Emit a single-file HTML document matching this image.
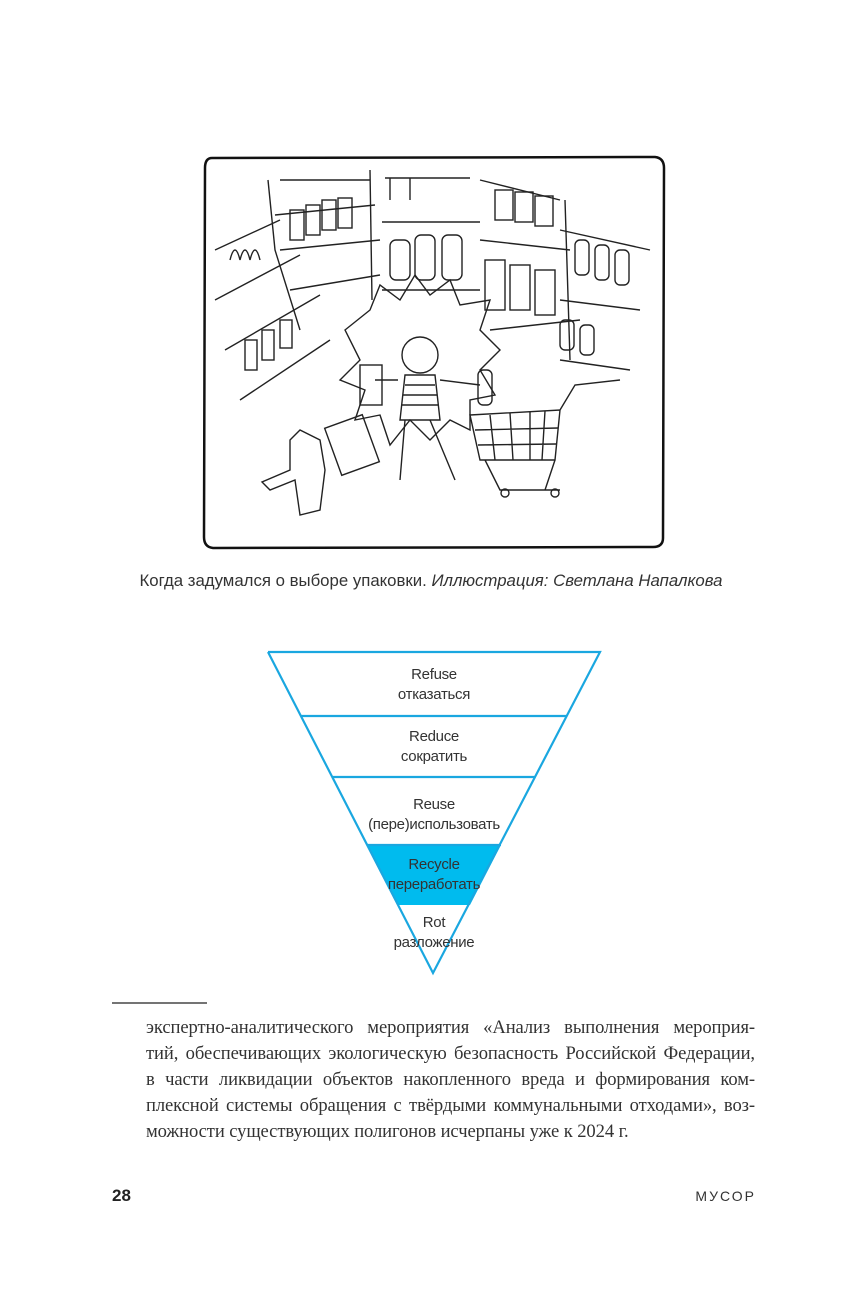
<!DOCTYPE html>
<html><head><meta charset="utf-8"><style>
html,body{margin:0;padding:0;background:#fff;}
body{width:862px;height:1299px;position:relative;overflow:hidden;font-family:"Liberation Sans",sans-serif;color:#222;}
.cap{position:absolute;top:571px;left:0;width:862px;text-align:center;font-size:16.8px;color:#333;}
.fn{position:absolute;left:146px;width:609px;font-family:"Liberation Serif",serif;font-size:18.6px;color:#333;text-align:justify;text-align-last:justify;white-space:nowrap;letter-spacing:-0.1px;}
.fn.last{text-align-last:left;}
.lbl{position:absolute;width:300px;text-align:center;font-size:15px;line-height:20px;color:#333;letter-spacing:-0.3px;}
</style></head><body>

<svg width="862" height="1299" style="position:absolute;left:0;top:0" xmlns="http://www.w3.org/2000/svg">
<path d="M212 158 L655 157 Q664 158 664 168 L663 538 Q663 547 653 547 L213 548 Q204 547 204 537 L205 168 Q205 158 212 158 Z" fill="none" stroke="#111" stroke-width="2.5"/>
<g fill="none" stroke="#222" stroke-width="1.4">
<path d="M215 250 L280 220 M215 300 L300 255 M225 350 L320 295 M240 400 L330 340 M280 180 L370 180 M275 215 L375 205 M280 250 L380 240 M290 290 L380 275"/>
<path d="M268 180 L275 250 L300 330 M370 170 L372 300"/>
<rect x="290" y="210" width="14" height="30"/><rect x="306" y="205" width="14" height="30"/><rect x="322" y="200" width="14" height="30"/><rect x="338" y="198" width="14" height="30"/>
<rect x="245" y="340" width="12" height="30"/><rect x="262" y="330" width="12" height="30"/><rect x="280" y="320" width="12" height="28"/>
<path d="M230 260 q5 -20 10 0 q5 -20 10 0 q5 -20 10 0"/>
<path d="M385 178 L470 178 M382 222 L480 222 M382 290 L480 290 M390 178 L390 200 M410 178 L410 200"/>
<rect x="390" y="240" width="20" height="40" rx="6"/><rect x="415" y="235" width="20" height="45" rx="6"/><rect x="442" y="235" width="20" height="45" rx="6"/>
<path d="M480 180 L560 200 M480 240 L570 250 M490 330 L580 320 M565 200 L570 360 M560 230 L650 250 M560 300 L640 310 M560 360 L630 370"/>
<rect x="495" y="190" width="18" height="30"/><rect x="515" y="192" width="18" height="30"/><rect x="535" y="196" width="18" height="30"/>
<rect x="485" y="260" width="20" height="50"/><rect x="510" y="265" width="20" height="45"/><rect x="535" y="270" width="20" height="45"/>
<rect x="575" y="240" width="14" height="35" rx="5"/><rect x="595" y="245" width="14" height="35" rx="5"/><rect x="615" y="250" width="14" height="35" rx="5"/>
<rect x="560" y="320" width="14" height="30" rx="5"/><rect x="580" y="325" width="14" height="30" rx="5"/>
<path d="M345 330 L370 310 L380 285 L400 300 L415 275 L430 295 L450 280 L460 305 L490 300 L480 330 L500 350 L480 370 L495 395 L470 400 L470 430 L450 420 L430 440 L410 420 L390 445 L380 415 L355 420 L365 390 L340 380 L360 360 Z"/>
<circle cx="420" cy="355" r="18"/>
<path d="M405 375 L400 420 L440 420 L435 375 Z M405 385 L435 385 M403 395 L437 395 M402 405 L438 405"/>
<path d="M405 420 L400 480 M430 420 L455 480 M398 380 L375 380 M440 380 L480 385"/>
<rect x="360" y="365" width="22" height="40"/><rect x="478" y="370" width="14" height="35" rx="5"/>
<path d="M470 415 L560 410 L555 460 L480 460 Z M560 410 L575 385 L620 380 M485 460 L500 490 L560 490 M555 460 L545 490"/>
<path d="M490 415 L495 460 M510 413 L513 460 M530 412 L530 460 M545 411 L542 460 M475 430 L558 428 M478 445 L556 444"/>
<circle cx="505" cy="493" r="4"/><circle cx="555" cy="493" r="4"/>
<path d="M290 440 L300 430 L320 440 L325 470 L320 510 L300 515 L295 480 L270 490 L262 482 L290 470 Z"/>
<rect x="332" y="420" width="40" height="50" transform="rotate(-20 352 445)"/>
</g>
<polygon points="367,845 501,845 470,905 398,905" fill="#00bbee"/>
<g stroke="#1aa7e0" stroke-width="2.2" fill="none">
<polyline points="268,652 600,652 433,973 268,652"/>
<line x1="301" y1="716" x2="567" y2="716"/>
<line x1="333" y1="777" x2="535" y2="777"/>
<line x1="367" y1="845" x2="501" y2="845"/>
</g>
<line x1="112" y1="1003" x2="207" y2="1003" stroke="#222" stroke-width="1.2"/>
</svg>

<div class="cap">Когда задумался о выборе упаковки. <i>Иллюстрация: Светлана Напалкова</i></div>

<div class="lbl" style="left:284px;top:665px">Refuse<br>отказаться</div>
<div class="lbl" style="left:284px;top:727px">Reduce<br>сократить</div>
<div class="lbl" style="left:284px;top:795px">Reuse<br>(пере)использовать</div>
<div class="lbl" style="left:284px;top:855px">Recycle<br>переработать</div>
<div class="lbl" style="left:284px;top:913px">Rot<br>разложение</div>

<div class="fn" style="top:1017px">экспертно-аналитического мероприятия «Анализ выполнения мероприя-</div>
<div class="fn" style="top:1043px">тий, обеспечивающих экологическую безопасность Российской Федерации,</div>
<div class="fn" style="top:1069px">в части ликвидации объектов накопленного вреда и формирования ком-</div>
<div class="fn" style="top:1095px">плексной системы обращения с твёрдыми коммунальными отходами», воз-</div>
<div class="fn last" style="top:1121px">можности существующих полигонов исчерпаны уже к 2024 г.</div>

<div style="position:absolute;left:112px;top:1186px;font-size:17px;font-weight:bold;color:#222">28</div>
<div style="position:absolute;right:106px;top:1188px;font-size:14px;letter-spacing:2px;color:#333">МУСОР</div>
</body></html>
